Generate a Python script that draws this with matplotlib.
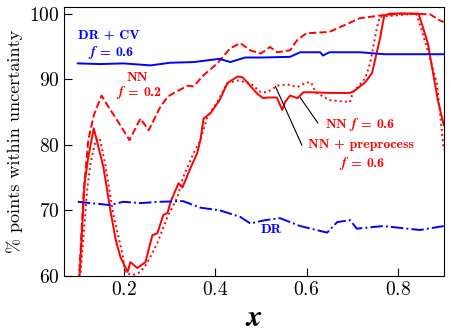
import matplotlib
matplotlib.use('Agg')
import matplotlib.pyplot as plt

plt.rcParams['font.family'] = 'cmr10'
plt.rcParams['mathtext.fontset'] = 'cm'
plt.rcParams['axes.formatter.use_mathtext'] = True

# NN, f = 0.2 (dashed)
nn02_x = [0.100, 0.113, 0.123, 0.135, 0.152, 0.165, 0.190, 0.213, 0.237, 0.255, 0.280, 0.296,
          0.313, 0.340, 0.353, 0.375, 0.405, 0.433, 0.455, 0.477, 0.500, 0.520, 0.536, 0.564,
          0.580, 0.600, 0.650, 0.717, 0.760, 0.805, 0.870, 0.890, 0.900]
nn02_y = [56.0, 73.0, 80.7, 84.5, 87.5, 86.0, 83.3, 80.7, 84.0, 82.2, 85.7, 87.3,
          88.0, 89.0, 88.9, 90.6, 92.4, 94.7, 95.5, 94.4, 93.9, 94.9, 94.1, 94.4,
          96.0, 97.0, 97.2, 99.3, 99.7, 100.0, 99.9, 99.0, 98.7]

# NN, f = 0.6 (solid)
nn06_x = [0.100, 0.115, 0.123, 0.135, 0.156, 0.172, 0.183, 0.193, 0.209, 0.215, 0.230, 0.248,
          0.263, 0.274, 0.287, 0.296, 0.303, 0.320, 0.329, 0.346, 0.361, 0.368, 0.375, 0.390,
          0.410, 0.427, 0.449, 0.460, 0.477, 0.492, 0.505, 0.516, 0.535, 0.547, 0.553, 0.564,
          0.580, 0.593, 0.610, 0.650, 0.695, 0.706, 0.728, 0.743, 0.760, 0.770, 0.782, 0.845,
          0.865, 0.887, 0.900]
nn06_y = [55.0, 74.2, 78.1, 82.5, 76.6, 69.7, 65.5, 62.9, 60.6, 62.1, 61.2, 62.1,
          66.2, 66.5, 69.3, 69.6, 71.3, 74.1, 73.5, 76.4, 78.7, 80.7, 84.0, 84.8,
          86.8, 89.4, 90.4, 90.3, 89.0, 87.8, 87.1, 87.2, 87.2, 85.3, 86.5, 87.5,
          87.1, 88.0, 88.0, 87.9, 87.9, 88.3, 89.5, 90.9, 96.0, 99.7, 100.0, 100.0,
          95.5, 86.8, 83.0]

# NN + preprocess, f = 0.6 (dotted)
nnpre_x = [0.100, 0.121, 0.128, 0.139, 0.148, 0.160, 0.178, 0.198, 0.204, 0.220, 0.237, 0.252,
           0.274, 0.296, 0.318, 0.330, 0.353, 0.368, 0.383, 0.405, 0.427, 0.449, 0.477, 0.500,
           0.514, 0.536, 0.558, 0.580, 0.600, 0.610, 0.620, 0.650, 0.695, 0.701, 0.728, 0.739,
           0.754, 0.760, 0.840, 0.865, 0.885, 0.900]
nnpre_y = [55.0, 73.5, 77.2, 80.7, 81.0, 77.0, 69.3, 63.2, 60.5, 60.1, 60.6, 62.0,
           65.0, 69.0, 72.0, 75.0, 78.7, 80.7, 84.2, 86.5, 89.4, 89.8, 89.4, 88.0,
           88.0, 89.0, 89.2, 88.8, 89.5, 89.5, 88.0, 86.8, 86.5, 87.9, 90.1, 92.4,
           97.9, 99.5, 100.0, 94.4, 89.4, 79.2]

# DR + CV, f = 0.6 (solid blue)
drcv_x = [0.100, 0.150, 0.200, 0.259, 0.302, 0.353, 0.410, 0.433, 0.466, 0.500, 0.564, 0.586,
          0.630, 0.636, 0.650, 0.717, 0.770, 0.900]
drcv_y = [92.4, 92.3, 92.4, 92.1, 92.5, 92.6, 93.1, 92.6, 93.3, 93.3, 93.4, 94.1,
          94.1, 93.6, 94.1, 94.1, 93.8, 93.8]

# DR (dash-dot blue)
dr_x = [0.100, 0.170, 0.200, 0.237, 0.280, 0.330, 0.368, 0.410, 0.455, 0.477, 0.510, 0.542,
        0.586, 0.645, 0.667, 0.695, 0.710, 0.767, 0.848, 0.900]
dr_y = [71.3, 70.8, 71.3, 71.1, 71.3, 71.4, 70.4, 70.0, 69.0, 68.0, 68.5, 68.8,
        67.6, 66.6, 68.2, 68.5, 67.2, 67.6, 67.0, 67.6]

fig = plt.figure(figsize=(4.51, 3.34), dpi=100)
ax = fig.add_axes([0.142, 0.174, 0.842, 0.805])

lw = 1.4
ax.plot(nn02_x, nn02_y, color='red', ls='--', lw=lw)
ax.plot(nn06_x, nn06_y, color='red', ls='-', lw=lw)
ax.plot(nnpre_x, nnpre_y, color='red', ls=':', lw=lw)
ax.plot(drcv_x, drcv_y, color='blue', ls='-', lw=lw)
ax.plot(dr_x, dr_y, color='blue', ls='-.', lw=lw)

ax.set_xlim(0.07, 0.9)
ax.set_ylim(60, 101)
ax.set_xticks([0.2, 0.4, 0.6, 0.8])
ax.set_yticks([60, 70, 80, 90, 100])
ax.tick_params(direction='in', length=6, labelsize=14, top=False, right=False)
ax.set_xlabel(r'$\boldsymbol{x}$', fontsize=22)
ax.set_ylabel('% points within uncertainty', fontsize=13)

bold = dict(family='cmb10', fontsize=10, ha='center', va='center')
f06 = r'$\boldsymbol{f}$ = 0.6'
ax.text(0.167, 96.7, 'DR + CV', color='blue', **bold)
ax.text(0.172, 94.1, f06, color='blue', **bold)
ax.text(0.231, 90.1, 'NN', color='red', **bold)
ax.text(0.233, 87.9, r'$\boldsymbol{f}$ = 0.2', color='red', **bold)
ax.text(0.717, 83.1, 'NN ' + f06, color='red', **bold)
ax.text(0.720, 79.9, 'NN + preprocess', color='red', **bold)
ax.text(0.722, 77.2, f06, color='red', **bold)
ax.text(0.522, 67.0, 'DR', color='blue', **bold)

line = dict(arrowstyle='-', color='black', lw=0.8, shrinkA=0, shrinkB=0)
ax.annotate('', xy=(0.532, 88.9), xytext=(0.590, 79.9), arrowprops=line)
ax.annotate('', xy=(0.586, 87.2), xytext=(0.625, 83.3), arrowprops=line)

fig.savefig('out.png', dpi=100)
